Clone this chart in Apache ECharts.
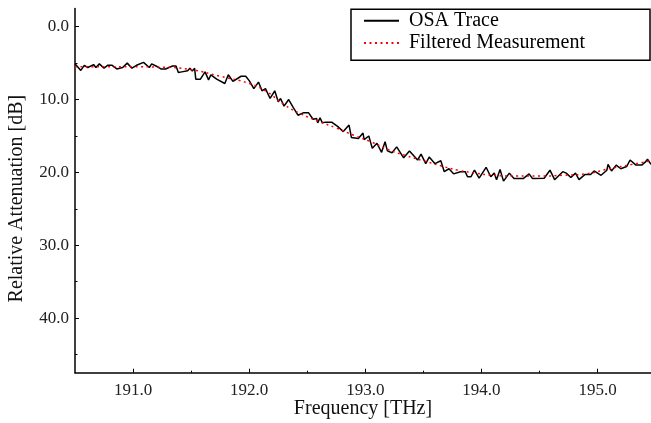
<!DOCTYPE html>
<html>
<head>
<meta charset="utf-8">
<script src="https://cdn.jsdelivr.net/npm/echarts@6/dist/echarts.min.js"></script>
<style>
  html, body { margin: 0; padding: 0; background: #fff; }
  #chart { width: 651px; height: 423px; }
</style>
</head>
<body>
<div id="chart"></div>
<script>
// OSA trace (noisy)
const osaFreq = [
  190.50, 190.55, 190.58, 190.61, 190.66, 190.68, 190.71, 190.75, 190.78, 190.82,
  190.86, 190.91, 190.95, 190.99, 191.03, 191.09, 191.14, 191.16, 191.21, 191.24,
  191.28, 191.34, 191.37, 191.39, 191.42, 191.47, 191.49, 191.51, 191.53, 191.54,
  191.58, 191.62, 191.65, 191.67, 191.72, 191.79, 191.82, 191.86, 191.93, 191.97,
  192.00, 192.04, 192.08, 192.11, 192.14, 192.18, 192.22, 192.25, 192.27, 192.30,
  192.34, 192.38, 192.42, 192.47, 192.51, 192.55, 192.58, 192.59, 192.61, 192.63,
  192.66, 192.71, 192.77, 192.81, 192.86, 192.88, 192.94, 192.98, 192.99, 193.03,
  193.06, 193.10, 193.14, 193.17, 193.19, 193.23, 193.27, 193.33, 193.38, 193.45,
  193.48, 193.52, 193.55, 193.60, 193.65, 193.68, 193.72, 193.76, 193.82, 193.86,
  193.88, 193.91, 193.94, 193.98, 194.04, 194.08, 194.11, 194.13, 194.16, 194.19,
  194.24, 194.28, 194.36, 194.41, 194.44, 194.54, 194.59, 194.63, 194.70, 194.73,
  194.77, 194.81, 194.84, 194.89, 194.94, 194.97, 195.03, 195.08, 195.09, 195.12,
  195.16, 195.20, 195.25, 195.28, 195.33, 195.38, 195.41, 195.43, 195.46
];
const osaAtt = [
  5.1, 6.0, 5.3, 5.6, 5.2, 5.6, 5.1, 5.7, 5.3, 5.3,
  5.8, 5.6, 5.0, 5.7, 5.3, 4.9, 5.6, 5.1, 5.5, 5.8,
  5.8, 5.4, 5.4, 6.3, 6.2, 6.05, 5.7, 6.1, 5.7, 7.2,
  7.2, 6.2, 7.3, 6.6, 7.2, 7.8, 6.6, 7.5, 6.8, 6.8,
  7.4, 8.5, 7.6, 8.8, 8.5, 9.85, 8.8, 10.3, 9.85, 10.9,
  10.0, 11.1, 12.15, 11.8, 11.8, 12.7, 12.6, 13.2, 12.5, 13.2,
  13.1, 13.1, 13.8, 14.4, 13.5, 15.2, 15.35, 14.6, 15.5, 15.0,
  16.7, 16.0, 17.25, 15.8, 17.05, 17.3, 16.5, 18.0, 17.05, 18.3,
  17.5, 18.8, 17.9, 18.8, 18.4, 19.9, 19.5, 20.2, 19.9, 19.9,
  20.6, 20.6, 19.7, 20.8, 19.3, 20.6, 20.1, 21.0, 19.6, 21.2,
  20.1, 20.85, 20.85, 20.2, 20.85, 20.8, 19.7, 21.0, 19.9, 20.1,
  20.7, 20.1, 21.0, 20.3, 20.3, 19.8, 20.4, 19.7, 18.9, 19.8,
  19.0, 19.5, 19.2, 18.3, 19.0, 19.0, 18.6, 18.2, 18.9
];

// Filtered measurement (smooth dotted curve)
const filtFreq = [
  190.5, 190.75, 191.0, 191.25, 191.5, 191.75, 192.0, 192.15, 192.3, 192.45,
  192.6, 192.75, 192.9, 193.05, 193.2, 193.35, 193.5, 193.65, 193.8, 193.95,
  194.1, 194.3, 194.5, 194.7, 194.9, 195.1, 195.3, 195.46
];
const filtAtt = [
  5.5, 5.5, 5.5, 5.55, 5.9, 6.8, 7.8, 8.9, 10.7, 12.0,
  13.0, 13.9, 14.9, 15.8, 16.9, 17.7, 18.4, 19.1, 19.7, 20.1,
  20.4, 20.5, 20.5, 20.4, 20.2, 19.5, 18.9, 18.4
];

const freqLabels = [191, 192, 193, 194, 195];
const freqMinor = [191.5, 192.5, 193.5, 194.5];
const attLabels = [0, 10, 20, 30, 40];
const attMinor = [5, 15, 25, 35, 45];

const FONT = 'Liberation Serif';
const chart = echarts.init(document.getElementById('chart'));

const xBase = {
  type: 'value', min: 190.5, max: 195.46, gridIndex: 0, position: 'bottom',
  splitLine: { show: false }
};
const yBase = {
  type: 'value', min: -2.5, max: 47.5, inverse: true, gridIndex: 0, position: 'left',
  splitLine: { show: false }
};

chart.setOption({
  animation: false,
  backgroundColor: '#fff',
  grid: { left: 75, right: 0, top: 8.5, bottom: 50.3, containLabel: false, outerBoundsMode: 'none' },
  xAxis: [
    Object.assign({}, xBase, {
      name: 'Frequency [THz]',
      nameLocation: 'middle',
      nameGap: 26,
      nameMoveOverlap: false,
      nameTextStyle: { fontFamily: FONT, fontSize: 20, color: '#111' },
      axisLine: { onZero: false, lineStyle: { color: '#000', width: 1.5 } },
      axisTick: { inside: true, length: 4, customValues: freqLabels, lineStyle: { color: '#000', width: 1 } },
      axisLabel: {
        customValues: freqLabels, margin: 9,
        fontFamily: FONT, fontSize: 17, color: '#222',
        formatter: v => v.toFixed(1)
      }
    }),
    Object.assign({}, xBase, {
      axisLine: { show: false, onZero: false },
      axisTick: { inside: true, length: 2, customValues: freqMinor, lineStyle: { color: '#000', width: 1 } },
      axisLabel: { show: false }
    })
  ],
  yAxis: [
    Object.assign({}, yBase, {
      name: 'Relative Attenuation [dB]',
      nameLocation: 'middle',
      nameRotate: 90,
      nameGap: 48,
      nameMoveOverlap: false,
      nameTextStyle: { fontFamily: FONT, fontSize: 20, color: '#111', padding: [0, 16, 0, 0] },
      axisLine: { onZero: false, lineStyle: { color: '#000', width: 1.5 } },
      axisTick: { inside: true, length: 4, customValues: attLabels, lineStyle: { color: '#000', width: 1 } },
      axisLabel: {
        customValues: attLabels, margin: 6,
        fontFamily: FONT, fontSize: 17, color: '#222',
        formatter: v => v.toFixed(1)
      }
    }),
    Object.assign({}, yBase, {
      axisLine: { show: false, onZero: false },
      axisTick: { inside: true, length: 2.5, customValues: attMinor, lineStyle: { color: '#000', width: 1 } },
      axisLabel: { show: false }
    })
  ],
  legend: {
    orient: 'vertical',
    left: 363, top: 10.7,
    padding: 0,
    itemWidth: 35, itemHeight: 2, itemGap: 2.3,
    itemStyle: { opacity: 0 },
    textStyle: { fontFamily: FONT, fontSize: 20, color: '#000', lineHeight: 20, padding: [0, 0, 0, 5] },
    data: ['OSA Trace', 'Filtered Measurement']
  },
  graphic: [{
    type: 'rect', z: 1,
    shape: { x: 351, y: 9.3, width: 299, height: 51 },
    style: { fill: '#fff', stroke: '#000', lineWidth: 1.5 }
  }],
  series: [
    {
      name: 'OSA Trace', type: 'line', symbol: 'none',
      xAxisIndex: 0, yAxisIndex: 0,
      lineStyle: { color: '#000', width: 1.5 },
      itemStyle: { color: '#000' },
      data: osaFreq.map((f, i) => [f, osaAtt[i]])
    },
    {
      name: 'Filtered Measurement', type: 'line', symbol: 'none', smooth: true,
      xAxisIndex: 0, yAxisIndex: 0, z: 3,
      lineStyle: { color: '#f00', width: 1.5, type: [2, 3.5] },
      itemStyle: { color: '#f00' },
      data: filtFreq.map((f, i) => [f, filtAtt[i]])
    }
  ]
});
</script>
</body>
</html>
